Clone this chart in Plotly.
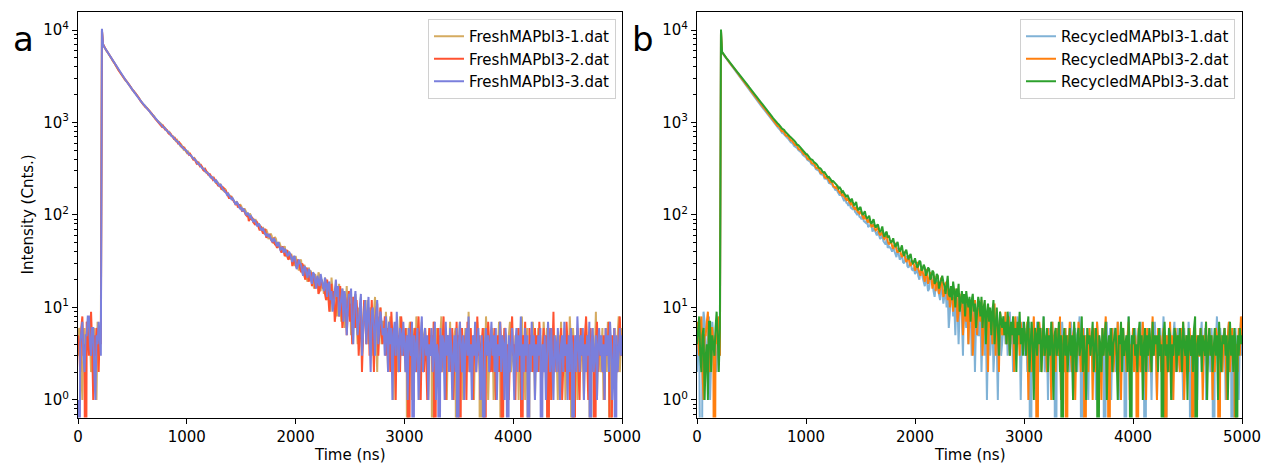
import plotly.graph_objects as go

# ---------------- data (counts per 10 ns bin) ----------------
time_ns = list(range(0, 5001, 10))

fresh_1 = [
    # 0-210 ns (background before the pulse)
    3, 6, 5, 2, 1, 4, 6, 3, 4, 7, 8, 5, 2, 4, 5, 6, 3, 1, 7, 4, 4, 6,
    # 220 ns peak, 230 ns
    9800, 6950,
    # 240-740 ns
    6590, 6350, 6080, 5770, 5530, 5290, 5120, 4850, 4640, 4490, 4290, 4060, 3890, 3770, 3610, 3410, 3270, 3190, 3070, 2920,
    2810, 2760, 2650, 2520, 2430, 2380, 2290, 2170, 2100, 2060, 1980, 1870, 1810, 1780, 1710, 1620, 1565, 1545, 1500, 1420,
    1380, 1365, 1320, 1250, 1215, 1205, 1170, 1100, 1078, 1062, 1035,
    # 750-1260 ns
    1000, 975, 948, 890, 895, 872, 822, 801, 775, 790, 742, 715, 716, 695, 650, 630, 648, 622, 580, 560, 575, 552, 512, 528, 490, 470,
    486, 468, 448, 442, 418, 401, 412, 395, 370, 359, 368, 352, 330, 318, 310, 322, 298, 285, 290, 281, 262, 256, 250, 255, 238, 229,
    # 1270-1980 ns
    218, 228, 222, 206, 212, 199, 186, 183, 194, 181, 168, 170, 165, 152, 160, 151, 146, 138, 132, 140, 128, 122, 130, 125, 116, 109,
    118, 111, 102, 97, 94, 104, 96, 88, 92, 83, 90, 85, 76, 80, 78, 70, 68, 74, 66, 61, 70, 65, 55, 57, 63, 60, 52, 49, 58, 55,
    47, 44, 51, 47, 42, 40, 44, 46, 38, 35, 41, 39, 33, 38, 34, 30,
    # 1990-2800 ns
    28, 36, 32, 27, 25, 31, 33, 24, 22, 29, 26, 21, 19, 27, 24, 25, 21, 18, 16, 23, 20, 17, 24, 22, 15, 20, 18, 14, 21, 19,
    12, 17, 15, 9, 21, 16, 11, 14, 17, 8, 10, 18, 12, 7, 16, 13, 6, 12, 17, 8, 10, 15, 5, 9, 13, 6, 14, 7, 4, 10,
    9, 13, 3, 6, 11, 9, 5, 12, 4, 7, 10, 3, 6, 9, 13, 5, 2, 8, 6, 10, 4, 7,
    # 2810-5000 ns (background)
    7, 4, 9, 5, 2, 6, 8, 3, 5, 1, 6, 4, 7, 2, 5, 8, 3, 6, 4, 5,
    2, 6, 0, 5, 7, 3, 1, 4, 6, 2, 8, 5, 3, 1, 4, 7, 2, 5, 6, 3,
    4, 1, 6, 3, 5, 0, 7, 2, 4, 6, 3, 1, 5, 8, 2, 4, 3, 6, 1, 5,
    3, 7, 2, 4, 1, 5, 6, 0, 3, 4, 7, 2, 5, 1, 3, 6, 4, 2, 9, 3,
    5, 2, 4, 1, 6, 3, 7, 4, 2, 0, 5, 3, 6, 2, 8, 4, 1, 3, 5, 4,
    6, 1, 3, 5, 2, 4, 7, 3, 0, 5, 2, 6, 4, 1, 3, 5, 7, 2, 4, 3,
    2, 5, 3, 6, 1, 4, 2, 8, 3, 5, 1, 4, 6, 0, 3, 5, 2, 7, 4, 1,
    4, 3, 6, 2, 5, 1, 3, 7, 4, 2, 6, 0, 5, 3, 1, 4, 6, 2, 5, 3,
    1, 5, 3, 7, 2, 4, 6, 1, 3, 5, 2, 8, 4, 0, 6, 3, 2, 5, 1, 4,
    5, 2, 6, 3, 1, 4, 7, 2, 5, 3, 0, 4, 6, 2, 3, 9, 1, 4, 5, 2,
    3, 6, 1, 4, 5, 2, 7, 3, 0, 5, 4, 2, 6, 1, 3, 5, 8, 2, 4, 6,
]

fresh_2 = [
    5, 4, 2, 6, 8, 3, 4, 0, 7, 6, 3, 5, 9, 4, 1, 5, 3, 6, 5, 2, 6, 4,
    9900, 7050,
    6630, 6300, 6020, 5810, 5580, 5300, 5050, 4880, 4690, 4450, 4240, 4110, 3930, 3720, 3560, 3440, 3300, 3140, 3030, 2950,
    2860, 2720, 2610, 2550, 2460, 2330, 2250, 2200, 2130, 2010, 1940, 1905, 1840, 1740, 1675, 1648, 1590, 1505, 1460, 1440,
    1400, 1335, 1290, 1275, 1240, 1178, 1140, 1130, 1095, 1030, 1005,
    985, 950, 905, 925, 872, 840, 838, 820, 770, 748, 760, 735, 690, 668, 680, 652, 615, 595, 610, 588, 548, 532, 540, 521, 495, 478,
    462, 447, 458, 440, 410, 398, 405, 380, 360, 371, 352, 337, 346, 333, 308, 300, 312, 296, 275, 268, 280, 266, 246, 240, 250, 238,
    226, 214, 205, 215, 198, 188, 200, 195, 176, 181, 170, 162, 150, 160, 155, 146, 142, 136, 128, 138, 120, 130, 122, 113, 109, 117,
    106, 101, 98, 104, 86, 92, 90, 95, 84, 81, 78, 86, 79, 74, 68, 76, 70, 63, 65, 71, 57, 59, 60, 62, 55, 52, 50, 57, 48, 47,
    44, 50, 45, 41, 39, 46, 40, 36, 37, 42, 33, 34, 38, 36, 28, 31,
    34, 29, 27, 33, 30, 26, 24, 30, 28, 22, 20, 27, 25, 19, 21, 24, 17, 22, 23, 16, 18, 21, 14, 15, 20, 19, 16, 18, 14, 12,
    20, 14, 9, 13, 18, 11, 15, 7, 9, 16, 13, 8, 17, 11, 6, 8, 14, 12, 5, 10, 15, 7, 11, 4, 13, 9, 6, 12, 8, 3,
    6, 11, 2, 5, 12, 9, 4, 7, 10, 3, 8, 12, 5, 2, 7, 9, 11, 3, 6, 10, 5, 4,
    5, 8, 3, 6, 4, 7, 2, 9, 5, 3, 6, 1, 7, 4, 5, 2, 8, 6, 3, 4,
    6, 2, 5, 0, 4, 7, 3, 1, 5, 6, 2, 4, 8, 3, 1, 5, 4, 2, 6, 3,
    1, 4, 6, 3, 5, 2, 7, 0, 4, 3, 6, 1, 5, 2, 4, 8, 3, 1, 5, 4,
    3, 5, 2, 6, 1, 4, 3, 7, 2, 5, 0, 4, 6, 3, 2, 5, 1, 7, 4, 2,
    6, 3, 1, 5, 4, 2, 8, 3, 5, 1, 4, 6, 2, 0, 5, 3, 7, 4, 2, 5,
    2, 4, 6, 1, 3, 5, 2, 7, 4, 0, 3, 6, 5, 2, 4, 1, 3, 6, 8, 3,
    4, 1, 5, 3, 6, 2, 4, 0, 5, 3, 7, 2, 4, 1, 6, 3, 5, 2, 4, 6,
    3, 5, 2, 7, 4, 1, 3, 6, 2, 5, 4, 0, 3, 6, 1, 5, 9, 2, 4, 3,
    5, 2, 4, 6, 1, 3, 5, 2, 7, 4, 3, 1, 6, 2, 5, 0, 4, 3, 6, 2,
    1, 6, 3, 4, 2, 5, 8, 3, 1, 4, 6, 2, 5, 3, 0, 4, 7, 2, 5, 3,
    4, 2, 5, 1, 6, 3, 4, 7, 2, 0, 5, 3, 6, 1, 4, 2, 5, 8, 3, 4,
]

fresh_3 = [
    1, 0, 4, 6, 7, 3, 2, 5, 5, 8, 8, 4, 3, 6, 6, 2, 1, 5, 4, 7, 5, 3,
    10300, 6980,
    6600, 6320, 6045, 5790, 5560, 5310, 5070, 4860, 4675, 4470, 4250, 4080, 3920, 3750, 3575, 3420, 3295, 3170, 3040, 2930,
    2845, 2740, 2620, 2530, 2455, 2360, 2262, 2185, 2120, 2040, 1950, 1880, 1832, 1760, 1685, 1625, 1580, 1530, 1470, 1430,
    1398, 1350, 1300, 1262, 1236, 1195, 1148, 1118, 1092, 1048, 1012,
    990, 968, 930, 898, 880, 865, 828, 800, 790, 772, 735, 712, 705, 690, 660, 638, 628, 615, 588, 570, 562, 550, 522, 508, 505, 492,
    470, 452, 448, 438, 420, 404, 398, 392, 372, 360, 358, 349, 334, 322, 318, 312, 296, 287, 284, 279, 262, 255, 258, 250, 240, 230,
    236, 224, 212, 204, 215, 201, 190, 186, 182, 174, 165, 170, 160, 155, 148, 152, 145, 139, 130, 137, 132, 123, 116, 122, 110, 115,
    112, 104, 99, 106, 100, 94, 97, 92, 84, 88, 86, 79, 75, 81, 77, 70, 69, 72, 66, 64, 59, 63, 58, 60, 55, 53, 51, 56, 53, 49,
    46, 51, 47, 42, 43, 45, 39, 43, 41, 37, 36, 40, 38, 33, 31, 35,
    36, 31, 26, 28, 33, 30, 29, 25, 22, 28, 27, 23, 21, 26, 25, 20, 18, 24, 23, 19, 16, 22, 20, 17, 23, 20, 16, 15, 21, 18,
    13, 18, 19, 12, 15, 9, 11, 16, 20, 13, 17, 8, 10, 14, 16, 7, 15, 12, 5, 9, 14, 13, 16, 6, 4, 11, 15, 9, 5, 7,
    11, 14, 3, 6, 9, 12, 4, 8, 13, 5, 2, 9, 10, 6, 3, 8, 12, 4, 6, 9, 7, 5,
    6, 3, 8, 5, 2, 7, 4, 6, 1, 5, 7, 3, 9, 4, 2, 6, 5, 3, 7, 4,
    2, 5, 1, 6, 4, 3, 7, 0, 5, 2, 4, 6, 1, 3, 5, 8, 2, 4, 6, 3,
    5, 1, 4, 3, 6, 2, 5, 7, 1, 4, 3, 0, 6, 2, 5, 4, 1, 7, 3, 5,
    2, 6, 4, 1, 3, 5, 2, 6, 0, 4, 7, 3, 2, 5, 1, 4, 6, 3, 8, 2,
    4, 1, 5, 3, 7, 2, 4, 6, 3, 1, 5, 2, 0, 4, 6, 3, 5, 2, 4, 7,
    3, 5, 2, 6, 1, 4, 3, 7, 2, 5, 4, 1, 6, 3, 0, 5, 2, 4, 6, 3,
    1, 4, 6, 2, 5, 3, 8, 1, 4, 2, 6, 3, 5, 0, 4, 2, 7, 3, 5, 1,
    4, 2, 5, 3, 6, 0, 4, 2, 5, 1, 3, 7, 4, 2, 6, 3, 1, 5, 4, 2,
    6, 3, 1, 4, 5, 2, 7, 3, 4, 1, 5, 2, 6, 4, 0, 3, 5, 2, 8, 4,
    2, 5, 3, 6, 1, 4, 2, 5, 3, 7, 0, 4, 6, 2, 3, 5, 1, 4, 6, 3,
    5, 2, 4, 1, 6, 3, 5, 2, 7, 4, 1, 3, 6, 0, 5, 2, 4, 6, 3, 5,
]

recycled_1 = [
    2, 5, 6, 1, 0, 4, 9, 7, 3, 2, 5, 8, 1, 4, 7, 5, 4, 3, 2, 6, 6, 3,
    9700, 5700,
    5480, 5270, 5090, 4890, 4710, 4560, 4390, 4220, 4070, 3920, 3780, 3640, 3510, 3380, 3260, 3140, 3030, 2915, 2810, 2710,
    2610, 2515, 2430, 2335, 2250, 2170, 2095, 2015, 1945, 1875, 1810, 1740, 1680, 1615, 1560, 1505, 1450, 1395, 1350, 1300,
    1250, 1205, 1165, 1120, 1085, 1040, 1005, 975, 940, 912, 885,
    858, 840, 800, 772, 765, 741, 705, 688, 680, 660, 628, 612, 604, 590, 560, 548, 540, 527, 502, 489, 484, 470, 446, 436, 432, 420,
    398, 388, 386, 374, 352, 345, 344, 335, 314, 308, 306, 299, 280, 274, 275, 267, 248, 245, 246, 238, 222, 219, 218, 213, 200, 196,
    184, 195, 178, 170, 162, 172, 158, 150, 141, 156, 136, 133, 126, 140, 120, 118, 114, 125, 108, 105, 100, 111, 96, 94, 90, 102,
    86, 84, 82, 91, 74, 76, 78, 80, 66, 70, 69, 63, 60, 67, 58, 55, 57, 61, 52, 50, 48, 55, 44, 46, 45, 43, 40, 47, 41, 37,
    35, 44, 36, 33, 34, 38, 31, 30, 33, 36, 28, 27, 29, 32, 26, 25,
    27, 23, 24, 29, 22, 20, 25, 26, 21, 18, 17, 24, 20, 15, 16, 22, 21, 19, 15, 13, 17, 20, 16, 14, 12, 18, 15, 11, 14, 16,
    10, 14, 6, 9, 13, 15, 8, 11, 5, 13, 11, 4, 10, 12, 8, 3, 12, 9, 6, 10, 4, 8, 11, 3, 6, 9, 2, 7, 10, 5,
    5, 9, 2, 6, 8, 3, 7, 1, 5, 8, 3, 6, 9, 2, 5, 7, 4, 1, 6, 8, 3, 5,
    6, 8, 4, 7, 3, 5, 9, 4, 6, 2, 7, 5, 3, 8, 4, 6, 1, 5, 7, 4,
    3, 6, 2, 5, 7, 0, 4, 6, 3, 5, 1, 7, 4, 2, 6, 5, 3, 8, 2, 4,
    5, 1, 6, 3, 4, 7, 2, 5, 0, 4, 6, 3, 5, 1, 7, 4, 2, 6, 3, 5,
    4, 2, 7, 5, 1, 3, 6, 4, 2, 5, 8, 3, 0, 4, 6, 2, 5, 3, 1, 6,
    3, 5, 2, 6, 4, 1, 7, 3, 5, 2, 4, 6, 3, 0, 5, 7, 2, 4, 6, 1,
    5, 3, 6, 2, 4, 7, 1, 5, 3, 6, 2, 4, 0, 5, 3, 8, 4, 2, 5, 3,
    2, 6, 4, 1, 5, 3, 7, 2, 4, 6, 0, 3, 5, 2, 6, 4, 1, 5, 3, 7,
    4, 1, 5, 3, 6, 2, 4, 8, 3, 0, 5, 2, 6, 4, 3, 1, 5, 7, 2, 4,
    6, 3, 2, 5, 4, 1, 6, 3, 5, 2, 7, 4, 0, 3, 5, 6, 2, 4, 1, 5,
    3, 5, 7, 2, 4, 6, 1, 3, 5, 4, 2, 6, 3, 0, 5, 4, 8, 2, 3, 6,
    4, 2, 5, 6, 1, 3, 5, 7, 2, 4, 0, 5, 3, 6, 2, 4, 1, 5, 7, 3,
]

recycled_2 = [
    7, 4, 3, 6, 8, 2, 1, 5, 5, 7, 9, 3, 2, 6, 6, 4, 0, 5, 4, 7, 8, 3,
    9900, 5750,
    5510, 5290, 5110, 4960, 4780, 4590, 4420, 4290, 4140, 3970, 3830, 3720, 3590, 3440, 3320, 3220, 3110, 2980, 2880, 2800,
    2700, 2580, 2495, 2430, 2340, 2240, 2160, 2110, 2030, 1940, 1870, 1830, 1765, 1680, 1615, 1585, 1530, 1450, 1395, 1372,
    1325, 1255, 1205, 1190, 1150, 1085, 1040, 1025, 995, 945, 912,
    908, 880, 826, 800, 808, 785, 735, 715, 722, 698, 655, 640, 640, 618, 580, 570, 575, 555, 518, 508, 512, 492, 462, 452, 455, 441,
    410, 400, 405, 393, 366, 360, 362, 350, 325, 320, 325, 313, 290, 284, 292, 282, 258, 252, 262, 250, 232, 226, 232, 224, 206, 203,
    196, 201, 188, 181, 174, 178, 160, 170, 158, 150, 146, 152, 140, 136, 131, 138, 124, 120, 114, 122, 110, 107, 104, 110, 100, 96,
    90, 99, 92, 86, 83, 90, 80, 75, 76, 80, 71, 68, 70, 74, 64, 60, 63, 66, 57, 55, 58, 60, 52, 48, 50, 53, 46, 43, 47, 50,
    42, 39, 41, 44, 38, 35, 37, 40, 34, 31, 33, 36, 30, 28, 31, 32,
    29, 25, 27, 31, 26, 23, 22, 28, 24, 21, 19, 26, 23, 18, 20, 24, 21, 16, 18, 22, 15, 19, 17, 14, 16, 21, 18, 13, 14, 18,
    19, 12, 16, 10, 14, 17, 9, 13, 11, 16, 7, 9, 14, 10, 13, 5, 9, 13, 7, 11, 4, 12, 8, 11, 3, 6, 12, 8, 5, 9,
    10, 7, 12, 3, 9, 11, 5, 8, 2, 10, 6, 9, 4, 7, 11, 3, 8, 6, 2, 9, 7, 5,
    7, 5, 9, 4, 6, 8, 3, 6, 5, 7, 2, 8, 5, 4, 6, 3, 7, 5, 4, 6,
    5, 3, 7, 1, 6, 4, 2, 5, 8, 3, 6, 0, 4, 7, 5, 2, 6, 3, 5, 4,
    2, 6, 4, 5, 1, 7, 3, 5, 2, 6, 4, 3, 8, 1, 5, 4, 2, 6, 0, 5,
    4, 7, 3, 2, 5, 6, 1, 4, 3, 7, 5, 2, 4, 6, 3, 0, 5, 4, 2, 6,
    3, 5, 1, 6, 4, 2, 7, 5, 3, 4, 1, 6, 3, 5, 8, 2, 4, 0, 5, 3,
    6, 2, 4, 5, 3, 7, 2, 4, 1, 5, 6, 3, 4, 2, 5, 7, 1, 4, 3, 6,
    2, 5, 3, 0, 6, 4, 2, 5, 7, 3, 4, 1, 6, 3, 5, 2, 4, 8, 3, 5,
    4, 1, 6, 3, 5, 2, 4, 6, 3, 0, 5, 4, 2, 7, 3, 5, 1, 4, 6, 2,
    5, 3, 2, 6, 4, 7, 1, 3, 5, 4, 2, 6, 3, 5, 0, 4, 6, 2, 5, 3,
    3, 6, 4, 1, 5, 3, 7, 2, 4, 6, 3, 5, 1, 4, 2, 6, 5, 3, 0, 4,
    5, 2, 4, 6, 3, 1, 5, 7, 2, 4, 6, 3, 5, 0, 4, 2, 6, 3, 8, 4,
]

recycled_3 = [
    4, 6, 8, 3, 2, 5, 6, 1, 3, 4, 1, 7, 7, 2, 5, 4, 3, 6, 9, 5, 2, 6,
    10100, 5800,
    5530, 5330, 5150, 4960, 4800, 4620, 4470, 4330, 4180, 4030, 3900, 3760, 3640, 3510, 3390, 3285, 3170, 3055, 2950, 2860,
    2760, 2660, 2570, 2490, 2400, 2310, 2240, 2160, 2090, 2020, 1950, 1875, 1815, 1755, 1690, 1630, 1575, 1525, 1470, 1415,
    1365, 1322, 1275, 1228, 1185, 1148, 1105, 1065, 1030, 1002, 975,
    950, 930, 890, 858, 850, 832, 795, 768, 758, 735, 710, 692, 668, 645, 640, 620, 595, 574, 570, 552, 530, 512, 508, 494, 475, 456,
    452, 440, 420, 405, 402, 392, 375, 362, 360, 350, 335, 322, 320, 312, 296, 288, 290, 280, 264, 256, 258, 250, 236, 229, 232, 224,
    218, 214, 205, 193, 198, 190, 176, 180, 172, 162, 156, 165, 152, 145, 141, 150, 138, 128, 130, 138, 120, 112, 118, 122, 108, 100,
    104, 110, 97, 92, 94, 98, 86, 80, 85, 90, 78, 73, 77, 79, 70, 65, 69, 75, 63, 58, 64, 66, 57, 60, 54, 50, 52, 56, 49, 45,
    48, 51, 44, 40, 43, 47, 39, 36, 40, 42, 37, 33, 36, 38, 32, 30,
    31, 34, 30, 27, 28, 32, 31, 25, 26, 29, 27, 22, 24, 27, 26, 20, 21, 25, 24, 18, 19, 23, 22, 16, 18, 21, 22, 19, 17, 14,
    18, 22, 14, 13, 17, 12, 19, 15, 10, 16, 13, 18, 9, 12, 15, 11, 14, 8, 15, 12, 10, 13, 7, 12, 14, 9, 11, 6, 10, 13,
    11, 8, 13, 6, 10, 12, 4, 9, 11, 7, 10, 5, 9, 12, 4, 8, 10, 6, 3, 9, 7, 6,
    8, 5, 7, 4, 9, 6, 3, 7, 5, 8, 4, 6, 2, 7, 5, 9, 4, 6, 3, 7,
    5, 3, 6, 8, 2, 5, 7, 4, 1, 6, 5, 3, 7, 4, 6, 2, 5, 8, 3, 4,
    6, 2, 5, 3, 7, 4, 1, 5, 6, 3, 4, 7, 2, 5, 0, 4, 6, 3, 5, 2,
    4, 6, 3, 5, 1, 7, 4, 2, 5, 6, 3, 4, 8, 2, 5, 3, 1, 6, 4, 5,
    3, 5, 7, 2, 4, 6, 3, 0, 5, 4, 2, 6, 3, 5, 7, 1, 4, 5, 3, 6,
    2, 4, 5, 6, 3, 1, 5, 4, 7, 2, 6, 3, 4, 5, 2, 8, 3, 0, 5, 4,
    6, 3, 4, 2, 5, 7, 3, 5, 1, 4, 6, 2, 5, 3, 6, 4, 2, 7, 3, 5,
    4, 5, 2, 6, 3, 4, 0, 5, 7, 3, 4, 2, 6, 5, 1, 4, 3, 6, 5, 2,
    5, 3, 6, 4, 2, 7, 4, 3, 5, 1, 6, 4, 3, 5, 2, 6, 8, 0, 4, 5,
    3, 6, 2, 5, 4, 3, 7, 1, 4, 6, 3, 5, 2, 4, 6, 3, 5, 1, 7, 4,
    2, 5, 4, 6, 3, 5, 1, 4, 7, 3, 5, 2, 6, 4, 0, 5, 3, 6, 4, 5,
]

fresh_names = ["FreshMAPbI3-1.dat", "FreshMAPbI3-2.dat", "FreshMAPbI3-3.dat"]
recycled_names = ["RecycledMAPbI3-1.dat", "RecycledMAPbI3-2.dat", "RecycledMAPbI3-3.dat"]
y_tick_values = [1, 10, 100, 1000, 10000]
y_tick_labels = ["10<sup>0</sup>", "10<sup>1</sup>", "10<sup>2</sup>", "10<sup>3</sup>", "10<sup>4</sup>"]
x_tick_values = [0, 1000, 2000, 3000, 4000, 5000]

for s in (fresh_1, fresh_2, fresh_3, recycled_1, recycled_2, recycled_3):
    assert len(s) == len(time_ns), len(s)

# ---------------- figure ----------------
W, H = 1263, 466
FONT = "DejaVu Sans"
fresh_colors = ["#d5ab60", "#ff5230", "#7a7fdc"]
recycled_colors = ["#80b2d6", "#ff7f0e", "#2ca02c"]


def clip_nonpositive(vals):
    # like matplotlib's log-scale 'clip': zero counts drop below the axis
    return [v if v > 0 else 1e-3 for v in vals]


fig = go.Figure()
for name, vals, col in zip(fresh_names, (fresh_1, fresh_2, fresh_3), fresh_colors):
    fig.add_trace(go.Scatter(x=time_ns, y=clip_nonpositive(vals), mode="lines", name=name,
                             line=dict(color=col, width=2), xaxis="x", yaxis="y", legend="legend"))
for name, vals, col in zip(recycled_names, (recycled_1, recycled_2, recycled_3), recycled_colors):
    fig.add_trace(go.Scatter(x=time_ns, y=clip_nonpositive(vals), mode="lines", name=name,
                             line=dict(color=col, width=2), xaxis="x2", yaxis="y2", legend="legend2"))

minor_vals = [m * 10 ** k for k in range(-1, 5) for m in range(2, 10)]

ydom = [1 - 417.5 / H, 1 - 11.5 / H]


def xaxis_style(dom, anchor):
    return dict(domain=dom, anchor=anchor, range=[0, 5000], tickvals=x_tick_values,
                showline=True, mirror=True, linecolor="black", linewidth=1,
                ticks="outside", ticklen=5, tickwidth=1, tickcolor="black",
                showgrid=False, zeroline=False, automargin=False,
                tickfont=dict(family=FONT, size=15, color="black"))


def yaxis_style(anchor):
    return dict(domain=ydom, anchor=anchor, type="log", range=[-0.19, 4.2],
                tickvals=y_tick_values, ticktext=y_tick_labels,
                showline=True, mirror=True, linecolor="black", linewidth=1,
                ticks="outside", ticklen=5, tickwidth=1, tickcolor="black",
                minor=dict(tickvals=minor_vals, ticks="outside", ticklen=3, tickwidth=0.8,
                           tickcolor="black", showgrid=False),
                showgrid=False, zeroline=False, automargin=False,
                tickfont=dict(family=FONT, size=15, color="black"))


legend_common = dict(yanchor="top", xanchor="right", bgcolor="rgba(255,255,255,0.8)",
                     bordercolor="#d0d0d0", borderwidth=1,
                     font=dict(family=FONT, size=15, color="black"), tracegroupgap=0)

fig.update_layout(
    width=W, height=H, margin=dict(l=0, r=0, t=0, b=0),
    paper_bgcolor="white", plot_bgcolor="white",
    font=dict(family=FONT, size=15, color="black"),
    xaxis=xaxis_style([78 / W, 622 / W], "y"),
    yaxis=yaxis_style("x"),
    xaxis2=xaxis_style([697 / W, 1242 / W], "y2"),
    yaxis2=yaxis_style("x2"),
    legend=dict(x=616 / W, y=1 - 19 / H, **legend_common),
    legend2=dict(x=1235 / W, y=1 - 19 / H, **legend_common),
    showlegend=True,
    annotations=[
        dict(text="a", x=11 / W, y=1 - 39 / H, xref="paper", yref="paper", xanchor="left",
             yanchor="middle", showarrow=False, font=dict(family=FONT, size=34, color="black")),
        dict(text="b", x=630 / W, y=1 - 39 / H, xref="paper", yref="paper", xanchor="left",
             yanchor="middle", showarrow=False, font=dict(family=FONT, size=34, color="black")),
        dict(text="Time (ns)", x=350 / W, y=1 - 455 / H, xref="paper", yref="paper",
             xanchor="center", yanchor="middle", showarrow=False, font=dict(family=FONT, size=15)),
        dict(text="Time (ns)", x=969.5 / W, y=1 - 455 / H, xref="paper", yref="paper",
             xanchor="center", yanchor="middle", showarrow=False, font=dict(family=FONT, size=15)),
        dict(text="Intensity (Cnts.)", x=27 / W, y=1 - 214.5 / H, xref="paper", yref="paper",
             xanchor="center", yanchor="middle", textangle=-90, showarrow=False,
             font=dict(family=FONT, size=15)),
    ],
)

fig.write_html("out.html")
